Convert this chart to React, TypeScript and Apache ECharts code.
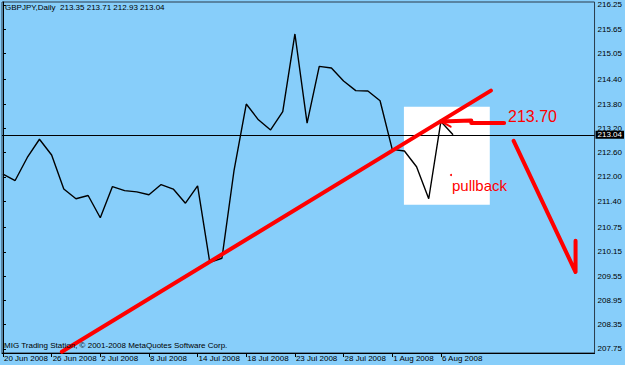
import React, { useEffect, useRef } from "react";
import * as echarts from "echarts";

const dates = [
  "20 Jun 2008", "23 Jun 2008", "24 Jun 2008", "25 Jun 2008", "26 Jun 2008",
  "27 Jun 2008", "30 Jun 2008", "1 Jul 2008", "2 Jul 2008", "3 Jul 2008",
  "4 Jul 2008", "7 Jul 2008", "8 Jul 2008", "9 Jul 2008", "10 Jul 2008",
  "11 Jul 2008", "14 Jul 2008", "15 Jul 2008", "16 Jul 2008", "17 Jul 2008",
  "18 Jul 2008", "20 Jul 2008", "21 Jul 2008", "22 Jul 2008", "23 Jul 2008",
  "24 Jul 2008", "25 Jul 2008", "27 Jul 2008", "28 Jul 2008", "29 Jul 2008",
  "30 Jul 2008", "31 Jul 2008", "1 Aug 2008", "3 Aug 2008", "4 Aug 2008",
  "5 Aug 2008", "6 Aug 2008", "7 Aug 2008",
];

const closes = [
  212.07, 211.91, 212.48, 212.93, 212.54, 211.7, 211.46, 211.54, 210.99, 211.76,
  211.66, 211.63, 211.56, 211.81, 211.7, 211.35, 211.78, 209.89, 209.99, 212.17,
  213.8, 213.41, 213.16, 213.61, 215.53, 213.33, 214.73, 214.69, 214.37, 214.13,
  214.12, 213.88, 212.68, 212.64, 212.25, 211.46, 213.37, 213.04,
];

const yTicks = [
  216.25, 215.65, 215.05, 214.4, 213.8, 213.2, 212.6, 212.0, 211.4, 210.75,
  210.15, 209.55, 208.95, 208.35, 207.75,
];
const xTicks = [0, 4, 8, 12, 16, 20, 24, 28, 32, 36];

const symbolName = "GBPJPY,Daily";
const ohlc = [213.35, 213.71, 212.93, 213.04];
const lastPrice = 213.04;
const targetLabel = "213.70";
const pullbackLabel = "pullback";
const copyright = "MIG Trading Station, © 2001-2008 MetaQuotes Software Corp.";

const trendLine = [
  [4.84, 207.68],
  [40.11, 214.13],
];
const targetArrow = [
  [36.0, 213.37],
  [38.5, 213.39],
  [38.5, 213.33],
  [41.2, 213.33],
];
const arrowHeadA = [
  [36.0, 213.37],
  [36.8, 213.52],
];
const arrowHeadB = [
  [36.0, 213.37],
  [36.8, 213.24],
];
const downArrow = [
  [41.98, 212.89],
  [47.07, 209.65],
  [47.07, 210.42],
];
const pullbackBox = [
  [32.96, 213.73],
  [40.02, 211.31],
];

const FONT = "'Liberation Sans Narrow', 'Liberation Sans', Arial, sans-serif";
const RED = "#ff0000";

export default function App() {
  const ref = useRef<HTMLDivElement>(null);
  useEffect(() => {
    if (!ref.current) return;
    const chart = echarts.init(ref.current, undefined, { renderer: "svg" });
    const redLine = (data: number[][], w = 4) => ({
      type: "line",
      data,
      symbol: "none",
      z: 5,
      silent: true,
      lineStyle: { color: RED, width: w, cap: "round", join: "round" },
    });
    chart.setOption({
      animation: false,
      backgroundColor: "#87cefa",
      grid: {
        left: 2,
        right: 29,
        top: 2,
        bottom: 12,
        show: true,
        borderColor: "#2a3a4a",
        borderWidth: 1,
        backgroundColor: "transparent",
      },
      xAxis: {
        type: "value",
        min: -0.08,
        max: 48.63,
        splitLine: { show: false },
        axisLine: { show: true, lineStyle: { color: "#000", width: 1 } },
        axisTick: {
          show: true,
          customValues: xTicks,
          length: 4,
          lineStyle: { color: "#000" },
        },
        axisLabel: {
          customValues: xTicks,
          formatter: (v: number) => dates[Math.round(v)] ?? "",
          align: "left",
          verticalAlign: "top",
          margin: 1,
          padding: [0, 0, 0, 1],
          fontSize: 8,
          fontFamily: FONT,
          color: "#000",
        },
      },
      yAxis: {
        type: "value",
        position: "right",
        min: 207.65,
        max: 216.32,
        splitLine: { show: false },
        axisLine: { show: true, lineStyle: { color: "#000", width: 1 } },
        axisTick: {
          show: true,
          customValues: yTicks,
          length: 3,
          lineStyle: { color: "#000" },
        },
        axisLabel: {
          customValues: yTicks,
          formatter: (v: number) => v.toFixed(2),
          margin: 3,
          fontSize: 8,
          fontFamily: FONT,
          color: "#000",
        },
      },
      series: [
        {
          type: "line",
          data: [],
          z: 1,
          silent: true,
          markArea: {
            silent: true,
            itemStyle: { color: "#ffffff" },
            data: [[{ coord: pullbackBox[0] }, { coord: pullbackBox[1] }]],
          },
        },
        {
          type: "line",
          data: closes.map((v, i) => [i, v]),
          symbol: "none",
          z: 3,
          silent: true,
          lineStyle: { color: "#000", width: 1.4 },
          markLine: {
            silent: true,
            symbol: ["none", "none"],
            data: [{ yAxis: lastPrice }],
            lineStyle: { color: "#000", width: 1, type: "solid" },
            label: {
              show: true,
              position: "end",
              distance: 1,
              formatter: lastPrice.toFixed(2),
              backgroundColor: "#000",
              color: "#fff",
              fontSize: 8,
              lineHeight: 8,
              fontFamily: FONT,
              padding: [0, 2, 0, 2],
            },
          },
        },
        redLine(trendLine),
        redLine(targetArrow),
        redLine(arrowHeadA, 2),
        redLine(arrowHeadB, 2),
        redLine(downArrow),
      ],
      graphic: [
        {
          type: "text",
          left: 5,
          top: 3,
          z: 10,
          style: {
            text: `${symbolName}  ${ohlc.map((v) => v.toFixed(2)).join(" ")}`,
            fontSize: 8,
            fontFamily: FONT,
            fill: "#000",
          },
        },
        {
          type: "text",
          left: 4,
          top: 341,
          z: 10,
          style: { text: copyright, fontSize: 8, fontFamily: FONT, fill: "#000" },
        },
        {
          type: "text",
          x: 508,
          y: 116,
          z: 10,
          style: {
            text: targetLabel,
            fontSize: 16,
            fontFamily: "'Liberation Sans', Arial, sans-serif",
            fill: RED,
            verticalAlign: "middle",
          },
        },
        {
          type: "text",
          x: 452,
          y: 185,
          z: 10,
          style: {
            text: pullbackLabel,
            fontSize: 15,
            fontFamily: "'Liberation Sans', Arial, sans-serif",
            fill: RED,
            verticalAlign: "middle",
          },
        },
        {
          type: "circle",
          z: 10,
          shape: { cx: 451, cy: 175, r: 1 },
          style: { fill: RED },
        },
      ],
    });
    return () => chart.dispose();
  }, []);
  return (
    <div
      ref={ref}
      style={{ position: "fixed", left: 0, top: 0, width: 625, height: 365 }}
    />
  );
}
